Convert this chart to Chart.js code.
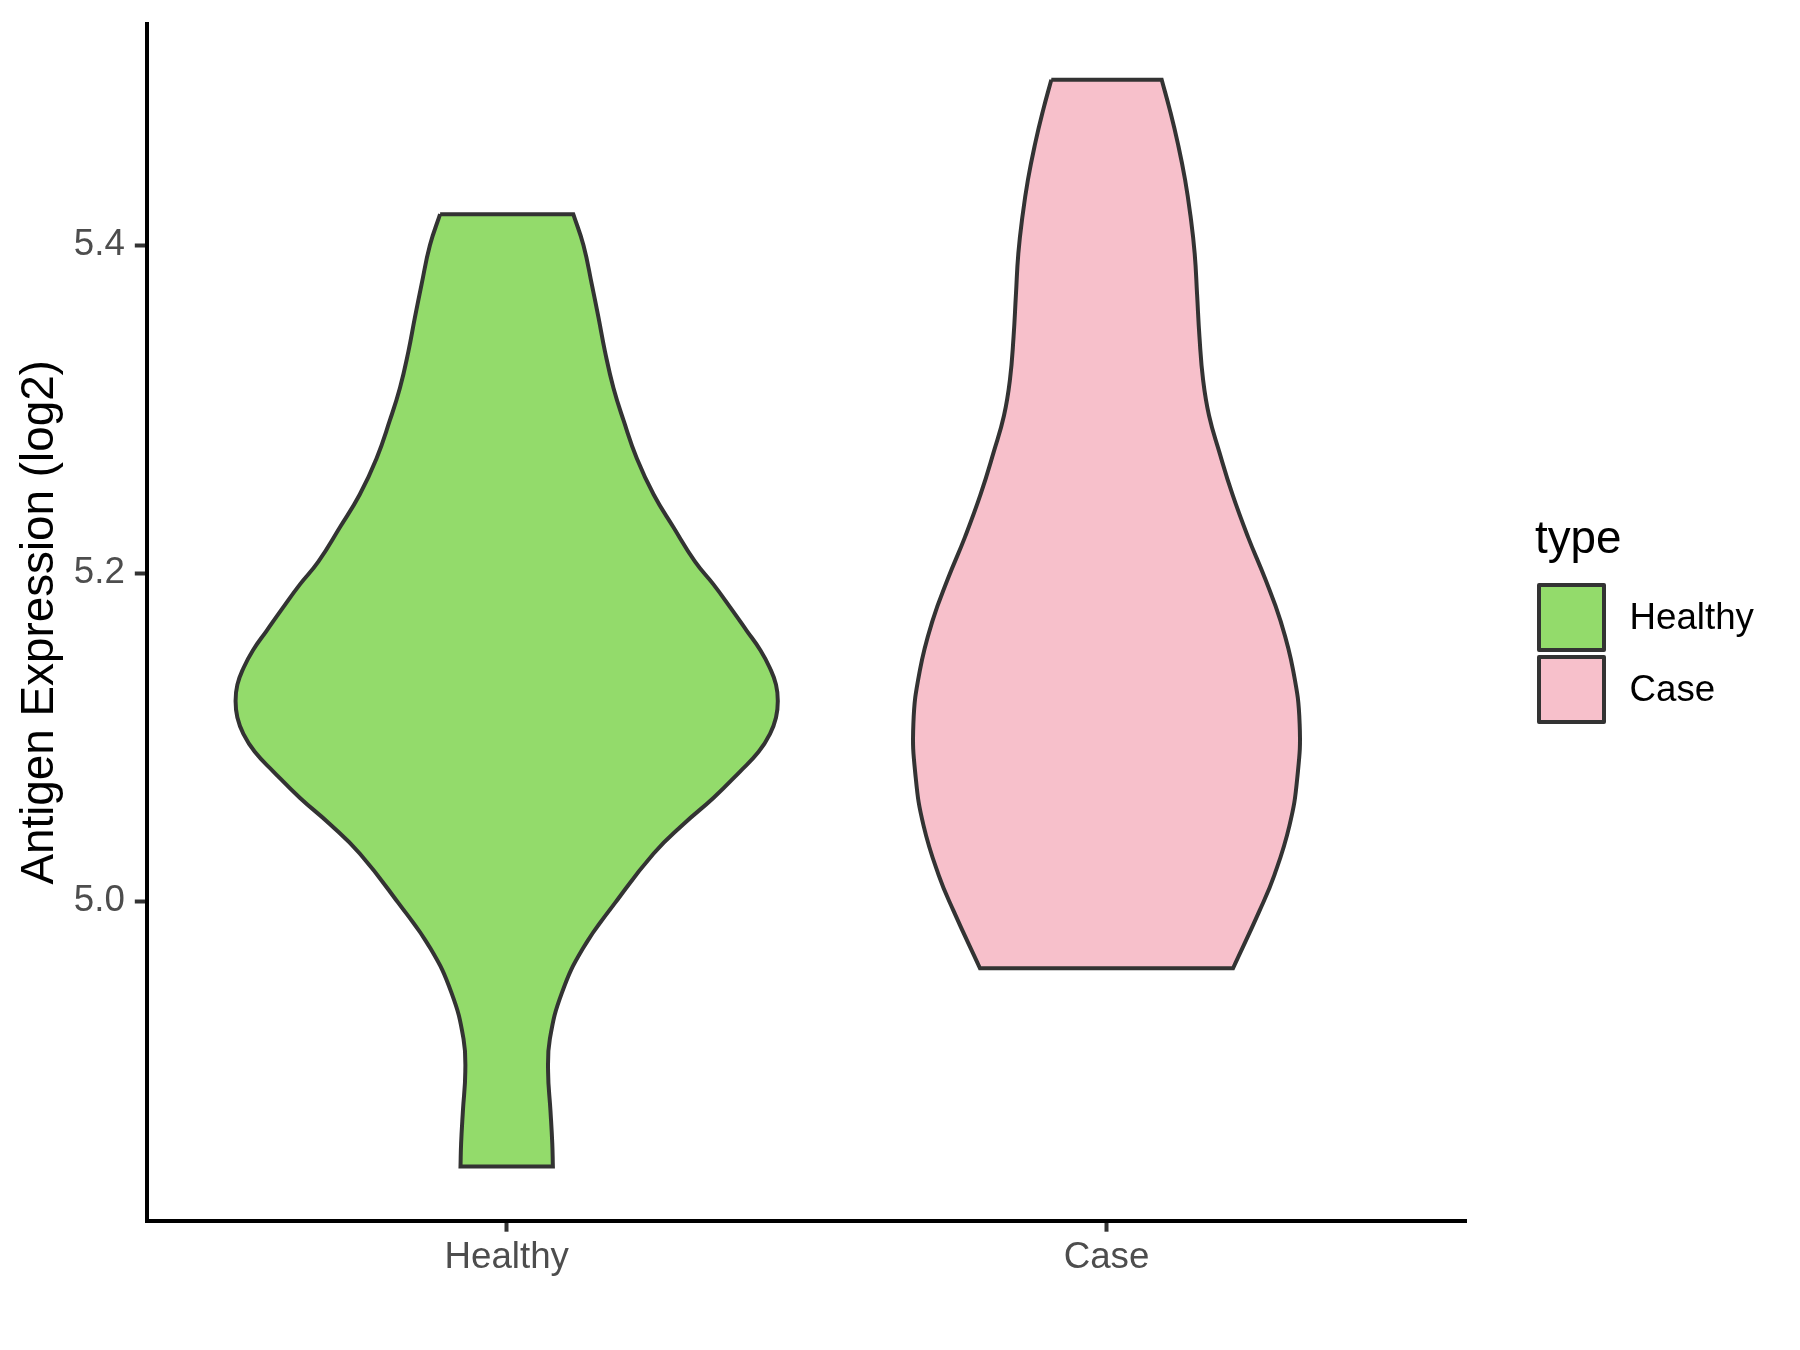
<!DOCTYPE html>
<html lang="en">
  <head>
    <meta charset="UTF-8" />
    <title>Antigen Expression violin</title>
    <style>
      * {
        box-sizing: border-box;
        margin: 0;
        padding: 0;
      }
      body {
        width: 1800px;
        height: 1350px;
        background: white;
        font-family: "Liberation Sans", Arial, sans-serif;
      }
      .wrap {
        position: relative;
        width: 1800px;
        height: 1350px;
      }
      .legend-title {
        position: absolute;
        left: 1535px;
        top: 515px;
        font-size: 45.8px;
        line-height: 1;
        color: #000;
      }
      .legend-key {
        position: absolute;
        left: 1537px;
        width: 69px;
        height: 69px;
        border: 4px solid #333333;
        border-radius: 2px;
      }
      .legend-label {
        position: absolute;
        left: 1629.5px;
        font-size: 36.7px;
        line-height: 1;
        color: #000;
      }
    </style>
  </head>
  <body>
    <div class="wrap">
      <canvas id="violin" width="1800" height="1350"></canvas>
      <div class="legend-title">type</div>
      <div class="legend-key" id="key0" style="top: 583px"></div>
      <div class="legend-label" id="lab0" style="top: 599px"></div>
      <div class="legend-key" id="key1" style="top: 655px"></div>
      <div class="legend-label" id="lab1" style="top: 671px"></div>
    </div>
    <script src="https://cdn.jsdelivr.net/npm/chart.js"></script>
    <script>
      const categories = ["Healthy", "Case"];
      const fillColors = ["#93DB6B", "#F7C0CB"];

      // violin outline: y value and half width (x units)
      const healthyY = [
        5.419, 5.4, 5.376, 5.356, 5.335, 5.313, 5.293, 5.27, 5.248, 5.228,
        5.207, 5.193, 5.179, 5.165, 5.153, 5.142, 5.132, 5.122, 5.112, 5.102,
        5.091, 5.079, 5.063, 5.047, 5.029, 4.999, 4.971, 4.944, 4.916, 4.896,
        4.872, 4.852, 4.838,
      ];
      const healthyHalfWidth = [
        0.111, 0.128, 0.142, 0.153, 0.164, 0.178, 0.195, 0.217, 0.245, 0.278,
        0.314, 0.345, 0.373, 0.4, 0.423, 0.439, 0.449, 0.452, 0.449, 0.439,
        0.42, 0.389, 0.345, 0.295, 0.245, 0.181, 0.127, 0.092, 0.072, 0.069,
        0.073, 0.076, 0.077,
      ];
      const caseY = [
        5.501, 5.482, 5.462, 5.44, 5.418, 5.395, 5.37, 5.344, 5.318, 5.296,
        5.274, 5.248, 5.222, 5.197, 5.171, 5.141, 5.108, 5.075, 5.046, 5.016,
        4.994, 4.959,
      ];
      const caseHalfWidth = [
        0.092, 0.106, 0.119, 0.131, 0.14, 0.147, 0.151, 0.155, 0.161, 0.171,
        0.188, 0.21, 0.236, 0.264, 0.29, 0.311, 0.322, 0.318, 0.305, 0.28,
        0.255, 0.211,
      ];
      const yTicks = [5.0, 5.2, 5.4];

      // closed outline; corners are doubled so the flat ends stay straight
      function outline(center, ys, hws) {
        const n = ys.length;
        const left = ys.map((y, i) => ({ x: center - hws[i], y: y }));
        const right = ys.map((y, i) => ({ x: center + hws[i], y: y })).reverse();
        return [left[0], ...left, left[n - 1], right[0], ...right, right[n - 1], left[0]];
      }

      const shapes = [
        outline(1, healthyY, healthyHalfWidth),
        outline(2, caseY, caseHalfWidth),
      ];

      categories.forEach((c, i) => {
        document.getElementById("key" + i).style.background = fillColors[i];
        document.getElementById("lab" + i).textContent = c;
      });

      const font = "'Liberation Sans', Arial, sans-serif";

      new Chart(document.getElementById("violin"), {
        type: "line",
        data: {
          datasets: shapes.map((pts, i) => ({
            label: categories[i],
            data: pts,
            fill: "shape",
            backgroundColor: fillColors[i],
            borderColor: "#333333",
            borderWidth: 4,
            tension: 0.45,
            pointRadius: 0,
          })),
        },
        options: {
          responsive: false,
          devicePixelRatio: 1,
          animation: false,
          layout: { padding: { left: 0, top: 24, right: 333.6, bottom: 49.3 } },
          plugins: {
            legend: { display: false },
            tooltip: { enabled: false },
          },
          scales: {
            x: {
              type: "linear",
              min: 0.4,
              max: 2.6,
              afterFit: (s) => {
                s.height = 80;
                s.paddingLeft = 0;
                s.paddingRight = 0;
              },
              afterBuildTicks: (s) => {
                s.ticks = [{ value: 1 }, { value: 2 }];
              },
              ticks: {
                callback: (v, i) => categories[i],
                color: "#4D4D4D",
                font: { family: font, size: 36.7 },
                padding: 4,
                maxRotation: 0,
              },
              grid: {
                drawOnChartArea: false,
                tickLength: 11,
                tickWidth: 4,
                tickColor: "#333333",
              },
              border: { color: "#000000", width: 4 },
            },
            y: {
              type: "linear",
              min: 4.805,
              max: 5.535,
              afterFit: (s) => {
                s.width = 146.8;
                s.paddingTop = 0;
                s.paddingBottom = 0;
              },
              afterBuildTicks: (s) => {
                s.ticks = yTicks.map((v) => ({ value: v }));
              },
              ticks: {
                callback: (v) => v.toFixed(1),
                color: "#4D4D4D",
                font: { family: font, size: 36.7 },
                padding: 10,
              },
              grid: {
                drawOnChartArea: false,
                tickLength: 12,
                tickWidth: 4,
                tickColor: "#333333",
              },
              border: { color: "#000000", width: 4 },
              title: {
                display: true,
                text: "Antigen Expression (log2)",
                color: "#000000",
                font: { family: font, size: 45.8 },
                padding: { top: 12.5, bottom: 0 },
              },
            },
          },
        },
      });
    </script>
  </body>
</html>
